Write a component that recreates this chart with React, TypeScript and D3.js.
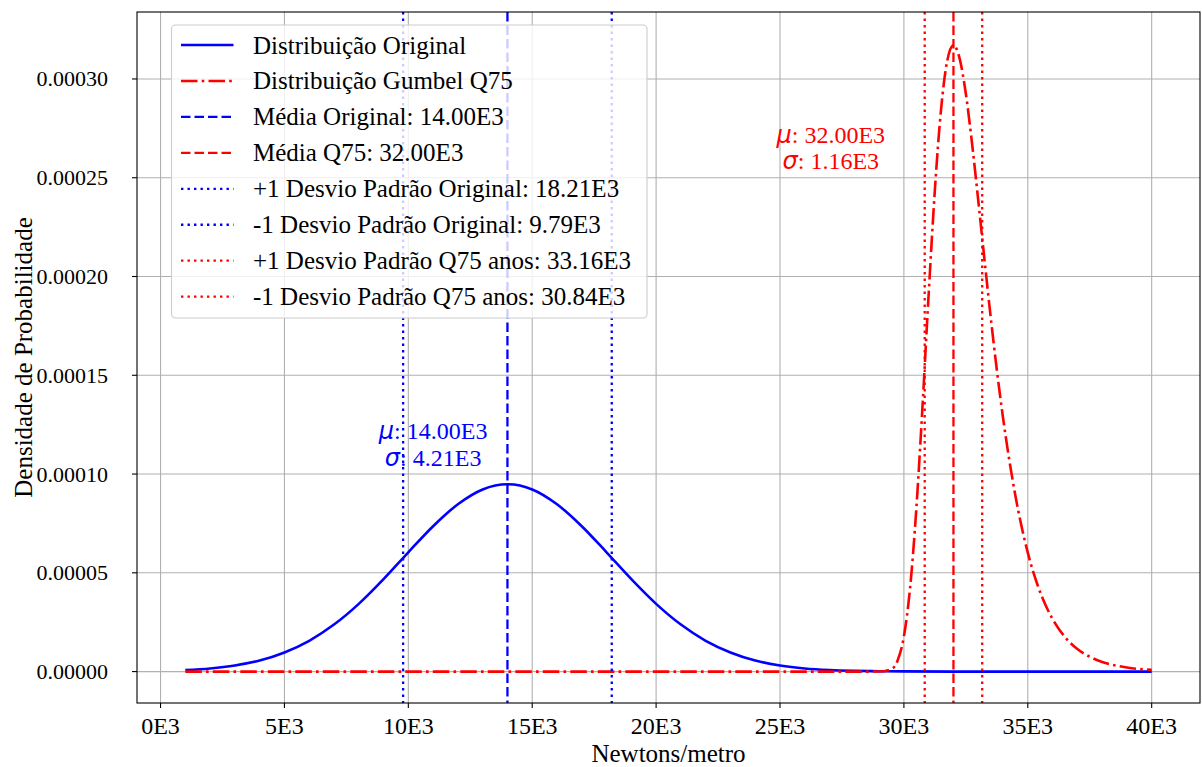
import React from 'react';
import * as d3 from 'd3';

// ---------- data ----------
const xOriginal = [
  1000, 2000, 3000, 4000, 5000, 6000, 7000, 8000, 9000, 10000,
  11000, 12000, 13000, 14000, 15000, 16000, 17000, 18000, 19000, 20000,
  21000, 22000, 23000, 24000, 25000, 26000, 27000, 28000, 29000, 30000,
  32000, 34000, 36000, 38000, 40000,
];
const densityOriginal = [
  0.0000008, 0.0000016, 0.0000031, 0.0000056, 0.0000097, 0.0000156, 0.0000238, 0.0000343, 0.0000468, 0.0000604,
  0.0000736, 0.0000847, 0.0000922, 0.0000948, 0.0000922, 0.0000847, 0.0000736, 0.0000604, 0.0000468, 0.0000343,
  0.0000238, 0.0000156, 0.0000097, 0.0000056, 0.0000031, 0.0000016, 0.0000008, 0.0000004, 0.0000002, 0.0000001,
  0, 0, 0, 0, 0,
];

const xGumbel = [
  1000, 5000, 10000, 15000, 20000, 25000, 28000, 29000, 29500, 29750,
  30000, 30250, 30500, 30750, 31000, 31250, 31500, 31750, 32000, 32250,
  32500, 32750, 33000, 33250, 33500, 33750, 34000, 34500, 35000, 35500,
  36000, 36500, 37000, 37500, 38000, 38500, 39000, 39500, 40000,
];
const densityGumbel = [
  0, 0, 0, 0, 0, 0, 0, 0.00000002, 0.0000013, 0.0000057,
  0.0000178, 0.0000424, 0.0000821, 0.0001341, 0.0001912, 0.0002438, 0.0002846, 0.0003093, 0.0003171, 0.0003103,
  0.0002925, 0.0002674, 0.0002386, 0.0002088, 0.0001798, 0.0001528, 0.0001286, 0.000089, 0.0000602, 0.0000402,
  0.0000266, 0.0000175, 0.0000114, 0.0000075, 0.0000049, 0.0000032, 0.0000021, 0.0000013, 0.0000009,
];

const xTicks = [0, 5000, 10000, 15000, 20000, 25000, 30000, 35000, 40000];
const xTickLabels = ['0E3', '5E3', '10E3', '15E3', '20E3', '25E3', '30E3', '35E3', '40E3'];
const yTicks = [0, 0.00005, 0.0001, 0.00015, 0.0002, 0.00025, 0.0003];
const yTickLabels = ['0.00000', '0.00005', '0.00010', '0.00015', '0.00020', '0.00025', '0.00030'];

const meanOriginal = 14000;
const plusStdOriginal = 18210;
const minusStdOriginal = 9790;
const meanQ75 = 32000;
const plusStdQ75 = 33160;
const minusStdQ75 = 30840;

const legendLabels = [
  'Distribuição Original',
  'Distribuição Gumbel Q75',
  'Média Original: 14.00E3',
  'Média Q75: 32.00E3',
  '+1 Desvio Padrão Original: 18.21E3',
  '-1 Desvio Padrão Original: 9.79E3',
  '+1 Desvio Padrão Q75 anos: 33.16E3',
  '-1 Desvio Padrão Q75 anos: 30.84E3',
];

const annotOriginal = { x: 11000, y: 0.0001043, mu: ': 14.00E3', sigma: ': 4.21E3' };
const annotQ75 = { x: 27050, y: 0.0002544, mu: ': 32.00E3', sigma: ': 1.16E3' };

// ---------- styles ----------
const BLUE = '#0000ff';
const RED = '#ff0000';
const LW = 2.6;
const VLW = 2.3;
const DASH = '9.5,4';
const DOT = '2.4,4.1';
const DASHDOT = '16.5,4.2,2.6,4.2';
const SERIF = '"Liberation Serif", "Times New Roman", Times, serif';

const legendStyles = [
  { color: BLUE, dash: undefined as string | undefined, w: LW },
  { color: RED, dash: DASHDOT, w: LW },
  { color: BLUE, dash: DASH, w: VLW },
  { color: RED, dash: DASH, w: VLW },
  { color: BLUE, dash: DOT, w: VLW },
  { color: BLUE, dash: DOT, w: VLW },
  { color: RED, dash: DOT, w: VLW },
  { color: RED, dash: DOT, w: VLW },
];

const W = 1202;
const H = 767;
const PL = 137;
const PR = 1200;
const PT = 12;
const PB = 703;

export default function App() {
  const x = d3.scaleLinear().domain([-950, 41950]).range([PL, PR]);
  const y = d3.scaleLinear().domain([-0.0000159, 0.0003339]).range([PB, PT]);

  const line = d3
    .line<[number, number]>()
    .x((d) => x(d[0]))
    .y((d) => y(d[1]))
    .curve(d3.curveMonotoneX);

  const origPath = line(xOriginal.map((v, i) => [v, densityOriginal[i]] as [number, number])) || '';
  const gumPath = line(xGumbel.map((v, i) => [v, densityGumbel[i]] as [number, number])) || '';

  const vlines = [
    { v: meanOriginal, color: BLUE, dash: DASH },
    { v: plusStdOriginal, color: BLUE, dash: DOT },
    { v: minusStdOriginal, color: BLUE, dash: DOT },
    { v: meanQ75, color: RED, dash: DASH },
    { v: plusStdQ75, color: RED, dash: DOT },
    { v: minusStdQ75, color: RED, dash: DOT },
  ];

  const legX = 171.5;
  const legY = 25;
  const legW = 475.5;
  const legH = 293;
  const rowY0 = 45;
  const rowDY = 35.95;

  const renderAnnot = (a: typeof annotOriginal, color: string) => (
    <text
      x={x(a.x)}
      y={y(a.y)}
      fill={color}
      fontFamily={SERIF}
      fontSize={24}
      textAnchor="middle"
    >
      <tspan x={x(a.x)} dy={-26.5}>
        <tspan fontFamily='"DejaVu Sans", sans-serif' fontStyle="italic">μ</tspan>
        {a.mu}
      </tspan>
      <tspan x={x(a.x)} dy={26.5}>
        <tspan fontFamily='"DejaVu Sans", sans-serif' fontStyle="italic">σ</tspan>
        {a.sigma}
      </tspan>
    </text>
  );

  return (
    <svg
      width={W}
      height={H}
      style={{ position: 'absolute', left: 0, top: 0, background: '#fff' }}
    >
      <rect x={0} y={0} width={W} height={H} fill="#fff" />
      <defs>
        <clipPath id="plotclip">
          <rect x={PL} y={PT} width={PR - PL} height={PB - PT} />
        </clipPath>
      </defs>
      {/* grid */}
      <g stroke="#b0b0b0" strokeWidth={1.1}>
        {xTicks.map((t) => (
          <line key={'gx' + t} x1={x(t)} x2={x(t)} y1={PT} y2={PB} />
        ))}
        {yTicks.map((t) => (
          <line key={'gy' + t} x1={PL} x2={PR} y1={y(t)} y2={y(t)} />
        ))}
      </g>

      <g clipPath="url(#plotclip)">
        <path d={origPath} fill="none" stroke={BLUE} strokeWidth={LW} />
        <path d={gumPath} fill="none" stroke={RED} strokeWidth={LW} strokeDasharray={DASHDOT} />
        {vlines.map((l, i) => (
          <line
            key={'v' + i}
            x1={x(l.v)}
            x2={x(l.v)}
            y1={PT}
            y2={PB}
            stroke={l.color}
            strokeWidth={VLW}
            strokeDasharray={l.dash}
          />
        ))}
      </g>

      {renderAnnot(annotOriginal, BLUE)}
      {renderAnnot(annotQ75, RED)}

      {/* spines */}
      <rect x={PL} y={PT} width={PR - PL} height={PB - PT} fill="none" stroke="#000" strokeWidth={1.1} />

      {/* ticks */}
      <g fontFamily={SERIF} fill="#000">
        {xTicks.map((t, i) => (
          <g key={'xt' + t}>
            <line x1={x(t)} x2={x(t)} y1={PB} y2={PB + 5} stroke="#000" strokeWidth={1.1} />
            <text x={x(t)} y={733.5} textAnchor="middle" fontSize={24}>
              {xTickLabels[i]}
            </text>
          </g>
        ))}
        {yTicks.map((t, i) => (
          <g key={'yt' + t}>
            <line x1={PL - 5} x2={PL} y1={y(t)} y2={y(t)} stroke="#000" strokeWidth={1.1} />
            <text x={108} y={y(t)} textAnchor="end" dominantBaseline="central" fontSize={22}>
              {yTickLabels[i]}
            </text>
          </g>
        ))}
      </g>

      {/* axis labels */}
      <text
        x={(PL + PR) / 2}
        y={762}
        textAnchor="middle"
        fontFamily={SERIF}
        fontSize={25}
      >
        Newtons/metro
      </text>
      <text
        transform={`translate(31.5, ${(PT + PB) / 2}) rotate(-90)`}
        textAnchor="middle"
        fontFamily={SERIF}
        fontSize={25}
      >
        Densidade de Probabilidade
      </text>

      {/* legend */}
      <g>
        <rect
          x={legX}
          y={legY}
          width={legW}
          height={legH}
          rx={4}
          ry={4}
          fill="#fff"
          fillOpacity={0.8}
          stroke="#cccccc"
          strokeWidth={1.1}
        />
        {legendLabels.map((lab, i) => {
          const cy = rowY0 + i * rowDY;
          const s = legendStyles[i];
          return (
            <g key={'lg' + i}>
              <line
                x1={181}
                x2={233.5}
                y1={cy}
                y2={cy}
                stroke={s.color}
                strokeWidth={s.w}
                strokeDasharray={s.dash}
              />
              <text
                x={253}
                y={cy}
                dominantBaseline="central"
                fontFamily={SERIF}
                fontSize={25}
                fill="#000"
              >
                {lab}
              </text>
            </g>
          );
        })}
      </g>
    </svg>
  );
}
